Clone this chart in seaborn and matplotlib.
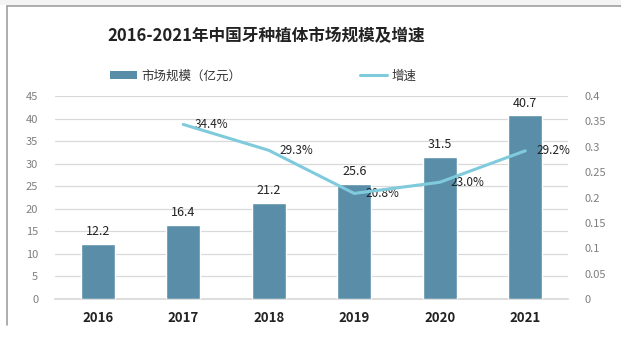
import matplotlib
matplotlib.use("Agg")
import matplotlib.pyplot as plt
import seaborn as sns
import pandas as pd
from matplotlib.patches import Patch, Rectangle
from matplotlib.lines import Line2D

years = ["2016", "2017", "2018", "2019", "2020", "2021"]
market_size = [12.2, 16.4, 21.2, 25.6, 31.5, 40.7]
growth_years = ["2017", "2018", "2019", "2020", "2021"]
growth = [0.344, 0.293, 0.208, 0.230, 0.292]
growth_labels = ["34.4%", "29.3%", "20.8%", "23.0%", "29.2%"]
left_ticks = [0, 5, 10, 15, 20, 25, 30, 35, 40, 45]
right_ticks = [0, 0.05, 0.1, 0.15, 0.2, 0.25, 0.3, 0.35, 0.4]
right_tick_labels = ["0", "0.05", "0.1", "0.15", "0.2", "0.25", "0.3", "0.35", "0.4"]
title = "2016-2021年中国牙种植体市场规模及增速"
bar_legend = "市场规模（亿元）"
line_legend = "增速"

sns.set_theme(style="white")
plt.rcParams['font.family'] = ['Noto Sans CJK SC', 'DejaVu Sans']

bar_color = "#5a8ea8"
line_color = "#7fcbdc"

fig = plt.figure(figsize=(6.21, 3.38), dpi=100)
fig.patch.set_facecolor("white")
# frame lines like screenshot (top and left only)
fig.add_artist(Rectangle((0, 1 - 5/338), 1, 5/338, transform=fig.transFigure,
                         facecolor="#f4f4f4", edgecolor="none"))
fig.add_artist(Line2D([7/621, 1], [1 - 5.5/338, 1 - 5.5/338], transform=fig.transFigure,
                      color="#a0a0a0", linewidth=1.2))
fig.add_artist(Line2D([7/621, 7/621], [1 - 5.5/338, 1 - 325/338], transform=fig.transFigure,
                      color="#a0a0a0", linewidth=1.2))

ax = fig.add_axes([55/621, 1 - 299/338, 513/621, 203/338])
df = pd.DataFrame({"year": years, "size": market_size})
sns.barplot(data=df, x="year", y="size", color=bar_color, width=0.4, ax=ax,
            saturation=1, zorder=3)
ax.set_ylim(0, 45)
ax.set_yticks(left_ticks)
ax.set_yticklabels([str(t) for t in left_ticks], color="#7f7f7f", fontsize=8)
ax.set_xlabel("")
ax.set_ylabel("")
ax.set_xticks(range(len(years)))
ax.set_xticklabels(years, fontsize=9.5, fontweight="bold", color="#222222")
ax.tick_params(axis="x", length=0, pad=9)
ax.tick_params(axis="y", length=0, pad=12)
ax.grid(axis="y", color="#d9d9d9", linewidth=0.9, zorder=0)
ax.set_axisbelow(True)
for s in ax.spines.values():
    s.set_visible(False)
ax.spines["bottom"].set_visible(True)
ax.spines["bottom"].set_color("#d9d9d9")
ax.set_xlim(-0.5, 5.5)

for i, v in enumerate(market_size):
    ax.text(i, v + 1.3, f"{v}", ha="center", va="bottom", fontsize=9, color="#222222")

ax2 = ax.twinx()
gx = [years.index(y) for y in growth_years]
gdf = pd.DataFrame({"x": gx, "g": growth})
sns.lineplot(data=gdf, x="x", y="g", color=line_color, linewidth=2.2, ax=ax2, zorder=4)
ax2.set_ylim(0, 0.4)
ax2.set_yticks(right_ticks)
ax2.set_yticklabels(right_tick_labels, color="#7f7f7f", fontsize=8)
ax2.tick_params(axis="y", length=0, pad=12)
ax2.set_xlabel("")
ax2.set_ylabel("")
for s in ax2.spines.values():
    s.set_visible(False)
ax2.set_xlim(-0.5, 5.5)
for x, g, lab in zip(gx, growth, growth_labels):
    ax2.annotate(lab, (x, g), xytext=(8, 0), textcoords="offset points",
                 ha="left", va="center", fontsize=8.5, color="#222222")

fig.text(266/621, 1 - 36/338, title, ha="center", va="center", fontsize=12,
         color="#222222", fontweight="bold")

handles = [Patch(facecolor=bar_color, edgecolor="none"),
           Line2D([0], [0], color=line_color, linewidth=2.2)]
fig.legend(handles, [bar_legend, line_legend], loc="center",
           bbox_to_anchor=(263/621, 1 - 76/338), ncol=2, frameon=False,
           fontsize=9, handlelength=2.2, handleheight=0.6, handletextpad=0.3,
           columnspacing=9.5, labelcolor="#333333")

fig.savefig("out.png", dpi=100)
